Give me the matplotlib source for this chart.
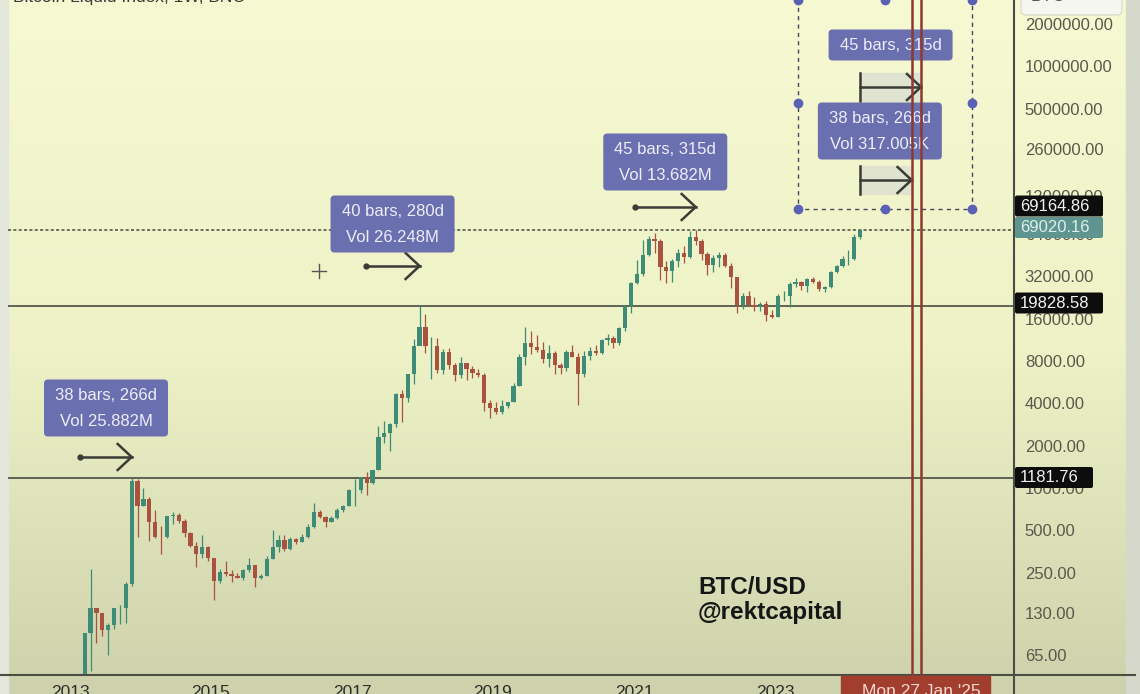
import matplotlib.pyplot as plt
import numpy as np
from matplotlib.patches import FancyBboxPatch, Rectangle
from matplotlib.ticker import NullLocator

plt.rcParams['font.family'] = ['Liberation Sans', 'DejaVu Sans']

# monthly candles (BTC/USD, BNC), March 2013 .. March 2024
first_month = (2013, 3)
first_open = 34
highs = [93, 266, 140, 130, 110, 140, 147, 215, 1181.76, 1150,
         1000, 860, 700, 540, 630, 680, 660, 600, 490, 415, 460, 385,
         320, 265, 300, 260, 248, 267, 318, 285, 245, 330, 500, 465,
         463, 445, 440, 470, 550, 780, 700, 630, 630, 720, 755, 980,
         1150, 1200, 1300, 1350, 2760, 2980, 2920, 4750, 4980, 6450, 11400, 19828.58,
         17200, 11800, 11700, 9750, 9960, 7760, 8500, 7760, 7400, 7000, 6600, 4250,
         4100, 4200, 4100, 5600, 9000, 13900, 13200, 12300, 10950, 10500, 9500, 7750,
         9600, 10500, 9200, 9460, 10000, 10400, 11450, 12480, 12050, 14000, 19900, 29300,
         41950, 58350, 61780, 64900, 59500, 41300, 42300, 50500, 52900, 67000, 69000, 59100,
         47900, 45800, 48200, 47400, 39900, 31900, 24600, 25200, 22800, 20950, 21450, 18400,
         23950, 25250, 29200, 31000, 29800, 31400, 31800, 30200, 27500, 35200, 38450, 44700,
         49000, 64000, 69200]
lows = [33, 50, 79, 88, 65, 99, 108, 110, 200, 450,
        750, 420, 440, 340, 440, 550, 565, 450, 380, 275, 320, 300,
        160, 210, 236, 214, 228, 220, 253, 198, 225, 235, 310, 350,
        355, 365, 400, 412, 440, 520, 610, 530, 575, 605, 680, 740,
        750, 915, 890, 1070, 1350, 2100, 1830, 2700, 2970, 4100, 5500, 10900,
        9100, 6000, 6600, 6450, 7050, 5780, 6100, 5880, 6100, 6200, 3550, 3150,
        3350, 3380, 3700, 4060, 5300, 7450, 9050, 9350, 7700, 7300, 6520, 6430,
        6850, 8500, 3900, 6150, 8100, 8900, 8950, 10500, 9900, 10400, 13200, 17600,
        28100, 32300, 45000, 47000, 30000, 28800, 29300, 37300, 39600, 43300, 53300, 42000,
        32950, 34300, 37200, 37600, 26700, 17600, 18800, 19600, 18150, 18200, 15500, 16300,
        16500, 21400, 19550, 26950, 25850, 24800, 28850, 25300, 24900, 26550, 34100, 37600,
        38500, 41900, 59000]
closes = [93, 139, 129, 97, 106, 140, 141, 207, 1130, 750,
          830, 575, 450, 445, 630, 640, 585, 480, 386, 338, 378, 320,
          218, 254, 244, 236, 230, 263, 284, 230, 236, 314, 378, 430,
          368, 437, 416, 448, 531, 673, 624, 575, 609, 700, 742, 964,
          965, 1190, 1080, 1350, 2300, 2480, 2875, 4700, 4340, 6450, 10200, 13900,
          10200, 10330, 6930, 9240, 7500, 6400, 7730, 7020, 6630, 6320, 4020, 3700,
          3450, 3850, 4100, 5320, 8560, 10800, 10100, 9600, 8300, 9150, 7550, 7200,
          9350, 8550, 6430, 8630, 9450, 9140, 11350, 11650, 10780, 13800, 19700, 29000,
          33100, 45200, 58800, 57700, 37300, 35000, 41500, 47100, 43800, 61300, 57000, 46300,
          38500, 43200, 45500, 37700, 31800, 19900, 23300, 20050, 19430, 20500, 17150, 16550,
          23150, 23150, 28500, 29250, 27200, 30500, 29250, 25950, 26950, 34650, 37700, 42300,
          42600, 61300, 69020.16]
opens = [first_open] + closes[:-1]

# horizontal levels and price tags
levels = [69020.16, 19828.58, 1181.76]
tick_vals = [65, 130, 250, 500, 1000, 2000, 4000, 8000, 16000, 32000, 64000,
             120000, 260000, 500000, 1000000, 2000000]
years = [2013, 2015, 2017, 2019, 2021, 2023]

# measurements: bars counted back from cycle tops, and forward from the last candle
top_ranges = [(2013, 2014), (2017, 2018), (2021, 2022)]
top_bars = [38, 40, 45]
top_vols = ['25.882M', '26.248M', '13.682M']
proj_bars = [45, 38]
proj_vols = [None, '317.005K']

W, H = 1140, 694
X0, PPY = 70, 70.5          # pixel of 1 Jan 2013, pixels per year
Y1K, PPO = 488, 42.3        # pixel of price 1000, pixels per doubling


def px(t):
    return X0 + PPY * (t - 2013)


def tyr(p):
    return 2013 + (p - X0) / PPY


def price(p):
    return 1000 * 2 ** ((Y1K - p) / PPO)


n = len(closes)
dates = np.array([first_month[0] + (first_month[1] - 1 + i + 0.5) / 12 for i in range(n)])
opens = np.array(opens, float)
closes = np.array(closes, float)
highs = np.array(highs, float)
lows = np.array(lows, float)

fig = plt.figure(figsize=(11.4, 6.94), dpi=100)

# background
bg = fig.add_axes([0, 0, 1, 1], zorder=0)
yy = np.linspace(0, 1, 200)
c_top = np.array([246, 249, 210]) / 255
c_mid = np.array([238, 242, 198]) / 255
c_bot = np.array([205, 210, 172]) / 255
grad = np.where(yy[:, None] < 0.5,
                c_top + (c_mid - c_top) * (yy[:, None] / 0.5),
                c_mid + (c_bot - c_mid) * ((yy[:, None] - 0.5) / 0.5))
bg.imshow(grad[:, None, :], aspect='auto', extent=[0, W, H, 0])
bg.add_patch(Rectangle((0, 0), 8, H, color='#e4e6dc'))
bg.add_patch(Rectangle((1126, 0), 14, H, color='#d6d8cc'))
bg.set_xlim(0, W)
bg.set_ylim(H, 0)
bg.axis('off')

# price chart
ax = fig.add_axes([8 / W, (H - 675) / H, (1013 - 8) / W, 675 / H], zorder=1)
ax.patch.set_alpha(0)
ax.set_yscale('log')
ax.set_xlim(tyr(8), tyr(1013))
ax.set_ylim(price(675), price(0))
for s in ax.spines.values():
    s.set_visible(False)

up = closes >= opens
col = np.where(up, '#3e8c78', '#a9523f')
ax.vlines(dates, lows, highs, colors=col, lw=0.9, zorder=2)
body_lo = np.minimum(opens, closes)
body_hi = np.maximum(opens, closes)
ax.bar(dates, body_hi - body_lo, bottom=body_lo, width=0.062, color=col, lw=0, zorder=3)

ax.axhline(levels[0], color='#4a4c40', lw=1.1, ls=(0, (2, 1.5)), zorder=1)
ax.axhline(levels[1], color='#4a4c40', lw=1.2, zorder=1)
ax.axhline(levels[2], color='#4a4c40', lw=1.2, zorder=1)

ax.yaxis.tick_right()
ax.set_yticks(tick_vals)
ax.set_yticklabels([f'{v:.2f}' for v in tick_vals])
ax.yaxis.set_minor_locator(NullLocator())
ax.tick_params(axis='y', length=0, pad=8.5, labelsize=12, labelcolor='#58594c')
ax.set_xticks(years)
ax.set_xticklabels([str(y) for y in years])
ax.tick_params(axis='x', length=0, pad=7, labelsize=12.5, labelcolor='#2e2e2a')

# overlay in pixel coordinates
ov = fig.add_axes([0, 0, 1, 1], zorder=3)
ov.set_xlim(0, W)
ov.set_ylim(H, 0)
ov.axis('off')
ov.patch.set_alpha(0)

ov.plot([0, 1135], [675, 675], color='#4b4d42', lw=1.5)
ov.plot([1014, 1014], [0, H], color='#4b4d42', lw=1.5)

title = 'Bitcoin Liquid Index, 1W, BNC'
ov.text(13, -3, title, fontsize=12.5, color='#3a3a36', va='center', ha='left')
ov.add_patch(FancyBboxPatch((1021, -12), 101, 27, boxstyle='round,pad=0,rounding_size=5',
                            fc='#f5f6ef', ec='#d4d6cc', lw=0.8))
ov.text(1031, -4, 'BTC', fontsize=12.5, color='#55564c', va='center', ha='left')

BOX = '#6a6fb0'
TXT = '#eceef8'
INK = '#3a3b36'


def label_box(cx, cy, lines):
    h = 31 if len(lines) == 1 else 57
    ov.add_patch(FancyBboxPatch((cx - 62, cy - h / 2), 124, h,
                                boxstyle='round,pad=0,rounding_size=4',
                                fc=BOX, ec='none', zorder=5))
    if len(lines) == 1:
        ov.text(cx, cy, lines[0], color=TXT, fontsize=12, ha='center', va='center', zorder=6)
    else:
        ov.text(cx, cy - 12.5, lines[0], color=TXT, fontsize=12, ha='center', va='center', zorder=6)
        ov.text(cx, cy + 13.5, lines[1], color=TXT, fontsize=12, ha='center', va='center', zorder=6)


def measure_arrow(x0, x1, y, shaded=False):
    if shaded:
        ov.add_patch(Rectangle((x0, y - 14), x1 - x0, 28, color='#dfe3d0', zorder=4))
        ov.plot([x0, x0], [y - 14, y + 14], color=INK, lw=1.8, zorder=5)
    else:
        ov.plot([x0], [y], 'o', color=INK, ms=3.5, zorder=5)
    ov.plot([x0, x1], [y, y], color=INK, lw=1.8, zorder=5)
    ov.plot([x1 - 14, x1, x1 - 14], [y - 13, y, y + 13], color=INK, lw=1.8,
            solid_joinstyle='miter', zorder=5)


# arrows ending at the cycle tops
arrow_ys = [457, 266, 207]
box_ys = [408, 224, 162]
for (a, b), bars, vol, ay, by in zip(top_ranges, top_bars, top_vols, arrow_ys, box_ys):
    sel = (dates >= a) & (dates < b)
    t_top = dates[sel][np.argmax(highs[sel])]
    x1 = px(t_top)
    x0 = px(t_top - bars * 7 / 365.25)
    measure_arrow(x0, x1, ay)
    label_box((x0 + x1) / 2, by, [f'{bars} bars, {bars * 7}d', f'Vol {vol}'])

# projections from the latest candle
t_now = dates[-1]
proj_ys = [87, 180]
proj_box_ys = [45, 131]
ends = []
for bars, vol, ay, by in zip(proj_bars, proj_vols, proj_ys, proj_box_ys):
    x0 = px(t_now)
    x1 = px(t_now + bars * 7 / 365.25)
    ends.append(x1)
    measure_arrow(x0, x1, ay, shaded=True)
    lines = [f'{bars} bars, {bars * 7}d'] + ([f'Vol {vol}'] if vol else [])
    label_box((x0 + x1) / 2 - (6 if vol else 0), by, lines)

# selection rectangle
rx0, rx1, ry1 = 798, 972, 209
ov.plot([rx0, rx0, rx1, rx1], [-5, ry1, ry1, -5], color='#45475a', lw=1, ls=(0, (3, 3)), zorder=4)
hx = [rx0, rx1, rx0, (rx0 + rx1) / 2, rx1, rx0, (rx0 + rx1) / 2, rx1]
hy = [103, 103, ry1, ry1, ry1, 0, 0, 0]
ov.plot(hx, hy, 'o', color='#5a60b4', ms=6, ls='none', zorder=6)

# vertical date lines
for x in ends:
    ov.plot([x, x], [0, 676], color='#8c3a2f', lw=1.8, zorder=7)
ov.add_patch(Rectangle((841, 676), 149, 20, color='#a23e2e', zorder=7))
ov.text(ends[0], 692, "Mon 27 Jan '25", color='#f2dad3', fontsize=12.5, ha='center',
        va='center', zorder=8)

# price tags on the axis
def tag(y, text, fc, tc, w=88):
    ov.add_patch(FancyBboxPatch((1015, y - 10.5), w, 21, boxstyle='round,pad=0,rounding_size=2',
                                fc=fc, ec='none', zorder=6))
    ov.text(1020, y, text, color=tc, fontsize=12, ha='left', va='center', zorder=7)


tag(206, f'{69164.86:.2f}', '#0d0d0d', '#f2f2f2')
tag(227.5, f'{levels[0]:.2f}', '#5f9590', '#dcefec')
tag(303, f'{levels[1]:.2f}', '#0d0d0d', '#f2f2f2')
tag(477.5, f'{levels[2]:.2f}', '#0d0d0d', '#f2f2f2', w=78)

# crosshair cursor
ov.plot([312, 326], [271, 271], color='#555550', lw=1)
ov.plot([319, 319], [264, 278], color='#555550', lw=1)

# watermark
ov.text(698, 588, 'BTC/USD', fontsize=17.5, fontweight='bold', color='#161616', va='center')
ov.text(698, 613, '@rektcapital', fontsize=17.5, fontweight='bold', color='#161616', va='center')

fig.savefig('out.png', dpi=100)
